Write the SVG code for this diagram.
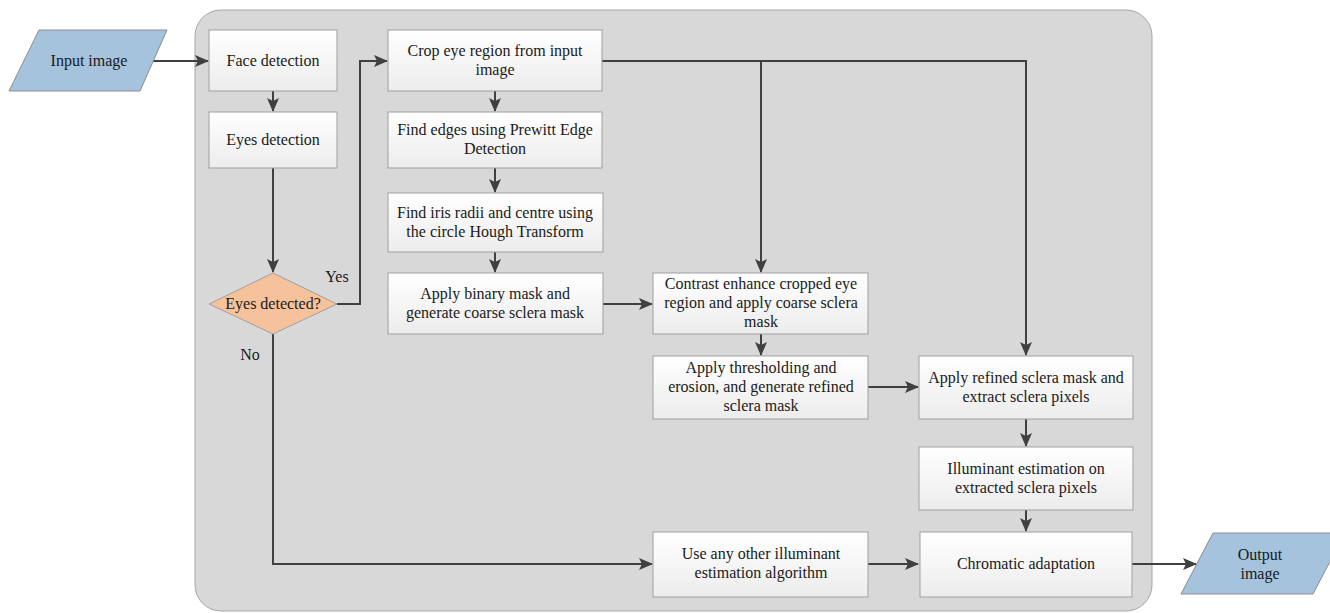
<svg xmlns="http://www.w3.org/2000/svg" width="1330" height="613" viewBox="0 0 1330 613">
<style>
.box{fill:url(#g);stroke:#a0a0a0;stroke-width:1}
.t{font-family:"Liberation Serif","Times New Roman",serif;font-size:16px;fill:#1a1a1a;text-anchor:middle}
.c{fill:none;stroke:#404040;stroke-width:2}
.io{fill:#a5c3dd;stroke:#8c8c8c;stroke-width:1}
</style>
<defs>
<linearGradient id="g" x1="0" y1="0" x2="0" y2="1">
<stop offset="0" stop-color="#ffffff"/>
<stop offset="1" stop-color="#ececec"/>
</linearGradient>
<marker id="a" markerUnits="userSpaceOnUse" markerWidth="14" markerHeight="12" refX="13" refY="6" orient="auto">
<path d="M0,0 L14,6 L0,12 L3,6 z" fill="#404040"/>
</marker>
</defs>
<rect id="container" x="195" y="10" width="957" height="601" rx="26" fill="#d8d8d8" stroke="#a6a6a6" stroke-width="1"/>
<g id="connectors">
<path class="c" d="M153,61 H208" marker-end="url(#a)"/>
<path class="c" d="M273,91 V111" marker-end="url(#a)"/>
<path class="c" d="M273,168 V272" marker-end="url(#a)"/>
<path class="c" d="M337,304 H360 V61 H387" marker-end="url(#a)"/>
<path class="c" d="M273,334 V564 H652" marker-end="url(#a)"/>
<path class="c" d="M495,91 V111" marker-end="url(#a)"/>
<path class="c" d="M495,168 V192" marker-end="url(#a)"/>
<path class="c" d="M495,252 V272" marker-end="url(#a)"/>
<path class="c" d="M602,61 H1026 V355" marker-end="url(#a)"/>
<path class="c" d="M761,61 V272" marker-end="url(#a)"/>
<path class="c" d="M603,304 H652" marker-end="url(#a)"/>
<path class="c" d="M761,334 V355" marker-end="url(#a)"/>
<path class="c" d="M868,387 H918" marker-end="url(#a)"/>
<path class="c" d="M1026,419 V446" marker-end="url(#a)"/>
<path class="c" d="M1026,510 V531" marker-end="url(#a)"/>
<path class="c" d="M868,564 H918" marker-end="url(#a)"/>
<path class="c" d="M1132,564 H1196" marker-end="url(#a)"/>
</g>
<g id="input">
<polygon class="io" points="39,30 167,30 140,91 9,91"/>
<text class="t" x="89" y="66">Input image</text>
</g>
<g id="face">
<rect class="box" x="209" y="30" width="128" height="61"/>
<text class="t" x="273" y="66">Face detection</text>
</g>
<g id="eyes">
<rect class="box" x="209" y="112" width="128" height="56"/>
<text class="t" x="273" y="145">Eyes detection</text>
</g>
<g id="decision">
<polygon points="273,273 337,304 273,334 209,304" fill="#f6c29c" stroke="#a0a0a0" stroke-width="1"/>
<text class="t" x="273" y="309">Eyes detected?</text>
</g>
<text class="t" x="337" y="282">Yes</text>
<text class="t" x="250" y="360">No</text>
<g id="crop">
<rect class="box" x="388" y="30" width="214" height="61"/>
<text class="t" x="495" y="56">Crop eye region from input</text>
<text class="t" x="495" y="75">image</text>
</g>
<g id="edges">
<rect class="box" x="388" y="112" width="214" height="56"/>
<text class="t" x="495" y="135">Find edges using Prewitt Edge</text>
<text class="t" x="495" y="154">Detection</text>
</g>
<g id="iris">
<rect class="box" x="388" y="193" width="215" height="59"/>
<text class="t" x="495" y="218">Find iris radii and centre using</text>
<text class="t" x="495" y="237">the circle Hough Transform</text>
</g>
<g id="binary">
<rect class="box" x="388" y="273" width="215" height="61"/>
<text class="t" x="495" y="299">Apply binary mask and</text>
<text class="t" x="495" y="318">generate coarse sclera mask</text>
</g>
<g id="contrast">
<rect class="box" x="653" y="273" width="215" height="61"/>
<text class="t" x="761" y="289">Contrast enhance cropped eye</text>
<text class="t" x="761" y="308">region and apply coarse sclera</text>
<text class="t" x="761" y="327">mask</text>
</g>
<g id="threshold">
<rect class="box" x="653" y="356" width="215" height="63"/>
<text class="t" x="761" y="373">Apply thresholding and</text>
<text class="t" x="761" y="392">erosion, and generate refined</text>
<text class="t" x="761" y="411">sclera mask</text>
</g>
<g id="refined">
<rect class="box" x="919" y="356" width="214" height="63"/>
<text class="t" x="1026" y="383">Apply refined sclera mask and</text>
<text class="t" x="1026" y="402">extract sclera pixels</text>
</g>
<g id="illum">
<rect class="box" x="919" y="447" width="214" height="63"/>
<text class="t" x="1026" y="474">Illuminant estimation on</text>
<text class="t" x="1026" y="493">extracted sclera pixels</text>
</g>
<g id="other">
<rect class="box" x="653" y="532" width="215" height="65"/>
<text class="t" x="761" y="559">Use any other illuminant</text>
<text class="t" x="761" y="578">estimation algorithm</text>
</g>
<g id="chromatic">
<rect class="box" x="920" y="532" width="212" height="65"/>
<text class="t" x="1026" y="569">Chromatic adaptation</text>
</g>
<g id="output">
<polygon class="io" points="1213,533 1345,533 1313,594 1181,594"/>
<text class="t" x="1260" y="560">Output</text>
<text class="t" x="1260" y="579">image</text>
</g>
</svg>
